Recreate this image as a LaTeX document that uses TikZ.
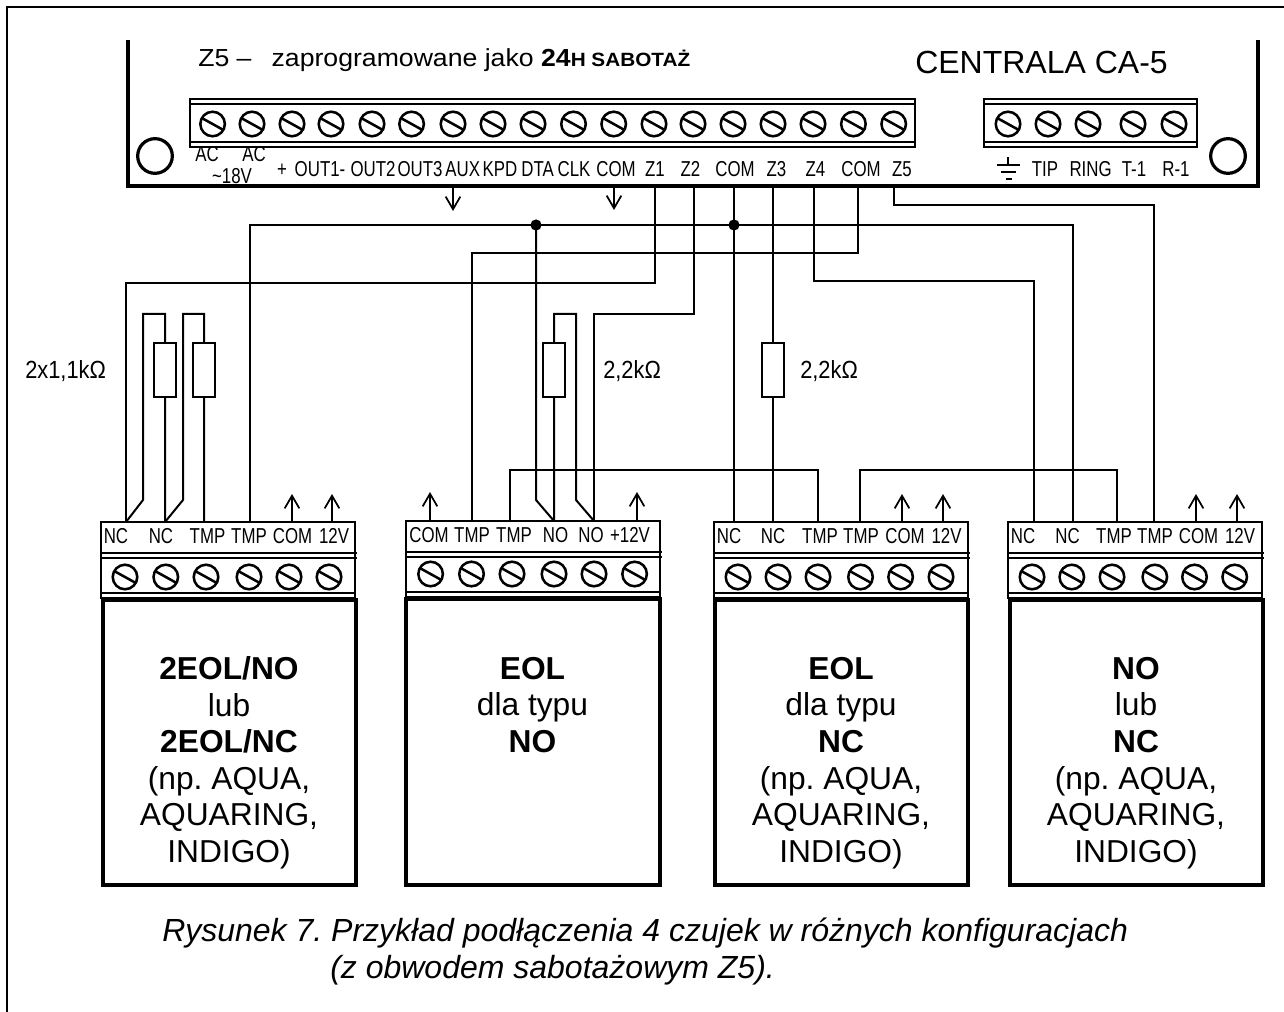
\documentclass[tikz,border=0pt]{standalone}
\usepackage{fontspec}
\setmainfont{Liberation Sans}
\newfontfamily\condf[FakeStretch=0.78]{Liberation Sans}
\newfontfamily\condg[FakeStretch=0.88]{Liberation Sans}
\newfontfamily\widef[FakeStretch=1.08]{Liberation Sans}
\usetikzlibrary{arrows.meta}
\tikzset{
 wire/.style={line width=1.5pt,line join=miter},
 lab/.style={font=\condf\fontsize{16.2}{16.2}\selectfont,inner sep=0pt,anchor=base},
 boxt/.style={align=center,inner sep=0pt,font=\frenchspacing\fontsize{23.8}{27.4}\selectfont,anchor=north},
 res/.style={draw,line width=1.4pt,fill=white,minimum width=16.5pt,minimum height=40.5pt,inner sep=0pt},
 ohm/.style={font=\condg\fontsize{18.6}{18.6}\selectfont,inner sep=0pt,anchor=west},
 up/.style={line width=1.4pt,-{Straight Barb[length=9.5pt,width=11pt,line width=1.3pt]}},
 captext/.style={font=\frenchspacing\itshape\fontsize{24}{24}\selectfont,inner sep=0pt,anchor=base west},
 strip/.style={line width=1.3pt},
}
\newcommand{\screw}[2]{%
 \draw[line width=1.9pt] (#1,#2) circle[radius=9.2pt];
 \draw[line width=1.9pt] (#1-11.2,#2-6.2) -- (#1+11.2,#2+6.2);}
\begin{document}
\begin{tikzpicture}[x=0.75pt,y=-0.75pt]
\useasboundingbox (0,0) rectangle (1284,1012);
\fill[white] (0,0) rectangle (1284,1012);
% frame
\draw[line width=1.7pt] (7,1012) -- (7,7) -- (1284,7);
% board
\draw[line width=3pt] (128,40) -- (128,186) -- (1258,186) -- (1258,40);
\draw[line width=2.4pt] (155,156) circle[radius=13pt];
\draw[line width=2.4pt] (1228,156) circle[radius=13pt];
\node[font=\frenchspacing\widef\fontsize{18.5}{18.5}\selectfont,inner sep=0pt,anchor=base west] (ttl) at (198,67) {Z5 –\hspace{9.5pt} zaprogramowane jako \textbf{24\fontsize{14.4}{14.4}\selectfont H SABOTAŻ}};
\node[font=\fontsize{24}{24}\selectfont,inner sep=0pt,anchor=base west] (ca) at (915,74) {CENTRALA CA-5};
% main strips
\draw[line width=1.6pt] (190,99) rectangle (915,147);
\draw[strip] (190,104) -- (915,104);
\draw[strip] (190,142) -- (915,142);
\foreach \x in {212.6,252,292,331,372,411.6,453,493,533,573.5,613.7,654,693,733,773,813,853.4,893.7}{\screw{\x}{124}}
\draw[line width=1.6pt] (984,99) rectangle (1197,147);
\draw[strip] (984,104) -- (1197,104);
\draw[strip] (984,142) -- (1197,142);
\foreach \x in {1008,1048,1088,1133,1174}{\screw{\x}{124}}
% main labels
\foreach \t/\x/\y [count=\i] in {AC/207/162,AC/254/162,{\textasciitilde 18V}/232/184,+/282/177,OUT1-/320/177,OUT2/373/177,OUT3/420/177,AUX/462.7/177,KPD/500/177,DTA/537.6/177,CLK/574/177,COM/616/177,Z1/655/177,Z2/690.4/177,COM/735/177,Z3/776.5/177,Z4/815.5/177,COM/861/177,Z5/902/177,TIP/1045/177,RING/1090.6/177,T-1/1134/177,R-1/1176/177}
 {\node[lab] (m\i) at (\x,\y) {\t};}
\draw[line width=1.5pt] (1008,157) -- (1008,165);
\draw[line width=1.5pt] (997,165) -- (1020,165);
\draw[line width=1.5pt] (1001,172) -- (1016,172);
\draw[line width=2.2pt] (1006,179) -- (1012,179);
% arrows from board
\coordinate (aux) at (453,188);
\coordinate (auxe) at (453,211);
\coordinate (com) at (614,188);
\coordinate (come) at (614,210);
\draw[up] (aux) -- (auxe);
\draw[up] (com) -- (come);
% board terminals
\coordinate (Z1) at (655,186);
\coordinate (Z2) at (694,186);
\coordinate (COMa) at (734,186);
\coordinate (Z3) at (773,186);
\coordinate (Z4) at (814,186);
\coordinate (COMb) at (858,186);
\coordinate (Z5) at (894,186);
% sensors
\foreach \xa/\xb/\yt/\ya/\yb/\yc/\yd/\bxa/\bxb in {101/355/522/553/558/593/598/103/356, 406/660/521/552/557/592/597/406/660, 714/968/522/553/558/593/598/715/968, 1008/1262/522/553/558/593/598/1010/1263}{
 \draw[line width=1.4pt] (\xa,\yt) rectangle (\xb,\yd);
 \draw[strip] (\xa,\ya) -- (\xb+2,\ya);
 \draw[strip] (\xa,\yb) -- (\xb+2,\yb);
 \draw[strip] (\xa,\yc) -- (\xb,\yc);
 \draw[line width=3pt] (\bxa,\yd+2) rectangle (\bxb,885);
}
\foreach \x in {125,165.8,206,249,289,329}{\screw{\x}{577}}
\foreach \x in {430.6,471.5,512,554,594,634.6}{\screw{\x}{574}}
\foreach \x in {738,778,818,860.5,900.6,941}{\screw{\x}{577}}
\foreach \x in {1032,1071.8,1112,1154.8,1194.5,1234.7}{\screw{\x}{577}}
% sensor labels
\foreach \t/\x [count=\i] in {NC/116,NC/161,TMP/207.5,TMP/249,COM/292.5,12V/334}{\node[lab] (a\i) at (\x,543) {\t};}
\foreach \t/\x [count=\i] in {COM/429,TMP/472,TMP/514,NO/555.5,NO/591,+12V/630}{\node[lab] (b\i) at (\x,542) {\t};}
\foreach \t/\x [count=\i] in {NC/729,NC/773,TMP/820,TMP/861,COM/905,12V/946.5}{\node[lab] (c\i) at (\x,543) {\t};}
\foreach \t/\x [count=\i] in {NC/1023,NC/1067.5,TMP/1114,TMP/1155,COM/1198.5,12V/1240}{\node[lab] (d\i) at (\x,543) {\t};}
% pins
\foreach \n/\x/\y in {a1/126/522,a2/165/522,a3/204/522,a4/250/522,a5/292/522,a6/332/522,
 b1/430/521,b2/472/521,b3/510/521,b4/554/521,b5/594/521,b6/637/521,
 c1/734/522,c2/773/522,c3/818/522,c4/860/522,c5/902/522,c6/943/522,
 d1/1034/522,d2/1073/522,d3/1117/522,d4/1154/522,d5/1196/522,d6/1237/522}{\coordinate (\n) at (\x,\y);}
\foreach \n in {a5,a6,c5,c6,d5,d6}{\draw[up] (\n) -- ++(0,-28);}
\foreach \n in {b1,b6}{\draw[up] (\n) -- ++(0,-29);}
% horizontal buses
\coordinate (jA) at (536,225);
\coordinate (jB) at (734,225);
\draw[wire] (a4) |- (jA) -- (jB) -| (d2);
\draw[wire] (Z1) |- (a1|-0,283) -- (a1);
\draw[wire] (Z2) |- (b5|-0,314) -- (b5);
\draw[wire] (COMb) |- (b2|-0,253) -- (b2);
\draw[wire] (Z4) |- (d1|-0,281) -- (d1);
\draw[wire] (Z5) |- (d4|-0,205) -- (d4);
\draw[wire] (COMa) -- (c1);
\draw[wire] (Z3) -- (c2);
\draw[wire] (b3) |- (c3|-0,470) -- (c3);
\draw[wire] (c4) |- (d3|-0,470) -- (d3);
\fill (jA) circle[radius=4.2pt];
\fill (jB) circle[radius=4.2pt];
% left sensor loops
\draw[wire] (a1) -- (143,500) -- (143,314) -| (a2);
\draw[wire] (a2) -- (183,500) -- (183,314) -| (a3);
\draw[wire] (jA) -- (536,500) -- (b4);
\draw[wire] (b5) -- (576,500) -- (576,314) -| (b4);
\node[res] (r1) at (165,370) {};
\node[res] (r2) at (204,370) {};
\node[res] (r3) at (554,370) {};
\node[res] (r4) at (773,370) {};
\node[ohm] (l1) at (25,371) {2x1,1kΩ};
\node[ohm] (l2) at (603,371) {2,2kΩ};
\node[ohm] (l3) at (800,371) {2,2kΩ};
% box text
\node[boxt] (t1) at (229,656.5) {\textbf{2EOL/NO}\\lub\\\textbf{2EOL/NC}\\(np. AQUA,\\AQUARING,\\INDIGO)};
\node[boxt] (t2) at (532.5,657) {\textbf{EOL}\\dla typu\\\textbf{NO}};
\node[boxt] (t3) at (841,657) {\textbf{EOL}\\dla typu\\\textbf{NC}\\(np. AQUA,\\AQUARING,\\INDIGO)};
\node[boxt] (t4) at (1136,657) {\textbf{NO}\\lub\\\textbf{NC}\\(np. AQUA,\\AQUARING,\\INDIGO)};
% caption
\node[captext] (cap1) at (162,941) {Rysunek 7. Przykład podłączenia 4 czujek w różnych konfiguracjach};
\node[captext] (cap2) at (330,978) {(z obwodem sabotażowym Z5).};
\end{tikzpicture}
\end{document}
